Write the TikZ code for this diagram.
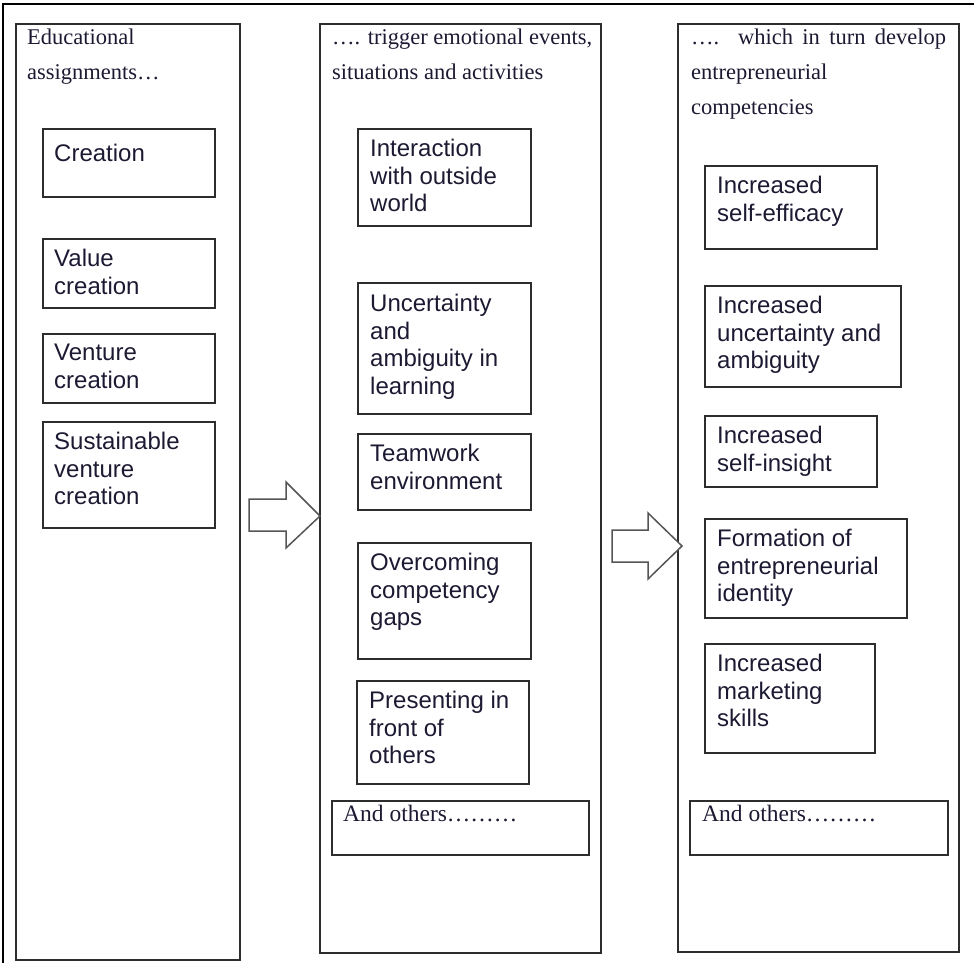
\documentclass[tikz,border=0pt]{standalone}
\usepackage{fontspec}
\setmainfont{Liberation Serif}
\setsansfont{Liberation Sans}
\usetikzlibrary{positioning}
\definecolor{framegray}{RGB}{45, 45, 45}
\definecolor{arrowgray}{RGB}{85, 85, 85}
\definecolor{inkblue}{RGB}{28, 26, 50}
\newcommand{\headfont}{\fontsize{22.5}{35}\selectfont\rmfamily}
\newcommand{\itemfont}{\fontsize{24}{27.5}\selectfont\sffamily}
\newcommand{\otherfont}{\fontsize{23.5}{27}\selectfont\rmfamily}

\begin{document}
\begin{tikzpicture}[x=1pt, y=-1pt,
    column/.style={draw=framegray, line width=1.8pt, anchor=north west, inner sep=0pt},
    stagebox/.style={draw=framegray, line width=1.6pt, anchor=north west, inner sep=0pt},
    headtext/.style={font=\headfont, text=inkblue, align=left, inner sep=0pt},
    itemtext/.style={font=\itemfont, text=inkblue, align=left, inner sep=0pt},
    othertext/.style={font=\otherfont, text=inkblue, align=left, inner sep=0pt},
    blockarrow/.style={draw=arrowgray, line width=1.5pt, fill=white, line join=miter}]
        \useasboundingbox (0, 0) rectangle (974, 963);

        % Outer frame (only top and left edge visible)
        \draw[line width=2pt, black] (3, 963) -- (3, 4) -- (974, 4);

        % Three columns
        \node[column, minimum width=224, minimum height=936] (colA) at (15, 23) {};
        \node[column, minimum width=281, minimum height=929] (colB) at (319, 23) {};
        \node[column, minimum width=281, minimum height=928] (colC) at (677, 23) {};

        % Column headings
        \node[headtext, below right=6pt and 12pt of colA.north west] (headA) {Educational\\assignments\ldots};
        \node[headtext, below right=6pt and 13pt of colB.north west] (headB) {\ldots. trigger emotional events,\\situations and activities};
        \node[headtext, below right=6pt and 14pt of colC.north west] (headC) {\makebox[255pt][s]{\ldots. which in turn develop}\\entrepreneurial\\competencies};

        % Educational assignments
        \node[stagebox, minimum width=172, minimum height=68] (cre) at (42, 128) {};
        \node[itemtext, below right=16pt and 12pt of cre.north west] (creT) {Creation};
        \node[stagebox, minimum width=172, minimum height=69] (val) at (42, 238) {};
        \node[itemtext, below right=11pt and 12pt of val.north west] (valT) {Value\\creation};
        \node[stagebox, minimum width=172, minimum height=69] (ven) at (42, 333) {};
        \node[itemtext, below right=11pt and 12pt of ven.north west] (venT) {Venture\\creation};
        \node[stagebox, minimum width=172, minimum height=106] (sus) at (42, 421) {};
        \node[itemtext, below right=11pt and 12pt of sus.north west] (susT) {Sustainable\\venture\\creation};

        % Emotional events
        \node[stagebox, minimum width=173, minimum height=97] (inter) at (357, 128) {};
        \node[itemtext, below right=11pt and 13pt of inter.north west] (interT) {Interaction\\with outside\\world};
        \node[stagebox, minimum width=173, minimum height=131] (unc) at (357, 282) {};
        \node[itemtext, below right=12pt and 13pt of unc.north west] (uncT) {Uncertainty\\and\\ambiguity in\\learning};
        \node[stagebox, minimum width=173, minimum height=76] (team) at (357, 433) {};
        \node[itemtext, below right=11pt and 13pt of team.north west] (teamT) {Teamwork\\environment};
        \node[stagebox, minimum width=173, minimum height=116] (over) at (357, 542) {};
        \node[itemtext, below right=11pt and 13pt of over.north west] (overT) {Overcoming\\competency\\gaps};
        \node[stagebox, minimum width=172, minimum height=103] (pres) at (356, 680) {};
        \node[itemtext, below right=11pt and 13pt of pres.north west] (presT) {Presenting in\\front of\\others};
        \node[stagebox, minimum width=257, minimum height=54] (othB) at (331, 800) {};
        \node[othertext, below right=5pt and 12pt of othB.north west] (othBT) {And others\ldots\ldots\ldots};

        % Entrepreneurial competencies
        \node[stagebox, minimum width=172, minimum height=83] (eff) at (704, 165) {};
        \node[itemtext, below right=11pt and 13pt of eff.north west] (effT) {Increased\\self-efficacy};
        \node[stagebox, minimum width=196, minimum height=101] (amb) at (704, 285) {};
        \node[itemtext, below right=11pt and 13pt of amb.north west] (ambT) {Increased\\uncertainty and\\ambiguity};
        \node[stagebox, minimum width=172, minimum height=71] (ins) at (704, 415) {};
        \node[itemtext, below right=11pt and 13pt of ins.north west] (insT) {Increased\\self-insight};
        \node[stagebox, minimum width=202, minimum height=99] (iden) at (704, 518) {};
        \node[itemtext, below right=11pt and 13pt of iden.north west] (idenT) {Formation of\\entrepreneurial\\identity};
        \node[stagebox, minimum width=170, minimum height=109] (mark) at (704, 643) {};
        \node[itemtext, below right=11pt and 13pt of mark.north west] (markT) {Increased\\marketing\\skills};
        \node[stagebox, minimum width=258, minimum height=54] (othC) at (689, 800) {};
        \node[othertext, below right=5pt and 13pt of othC.north west] (othCT) {And others\ldots\ldots\ldots};

        % Block arrows between columns
        \draw[blockarrow] (249, 499) -- (286, 499) -- (286, 482) -- (320, 516) -- (286, 548) -- (286, 531) -- (249, 531) -- cycle;
        \draw[blockarrow] (612, 530) -- (648, 530) -- (648, 513) -- (682, 546) -- (648, 579) -- (648, 562) -- (612, 562) -- cycle;
\end{tikzpicture}
\end{document}
